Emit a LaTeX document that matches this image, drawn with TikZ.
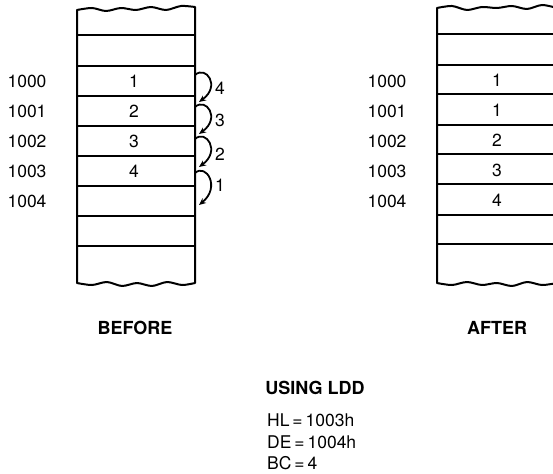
\documentclass[tikz,border=0pt]{standalone}
\usepackage{fontspec}
\setmainfont{TeX Gyre Heros}
\usetikzlibrary{arrows.meta}
\begin{document}
\begin{tikzpicture}[x=1pt,y=-1pt,
  lbl/.style={font=\fontsize{17.5}{20}\selectfont, inner sep=0pt},
  ttl/.style={font=\fontsize{18}{21}\selectfont\bfseries, inner sep=0pt},
  edge/.style={line width=2pt, line cap=round, line join=round},
  rowline/.style={line width=1.5pt},
  mv/.style={line width=1.8pt, -{Stealth[length=7pt,width=6pt]}}]
\useasboundingbox (0,0) rectangle (553,473);
\clip (0,0) rectangle (553,473);

% ---------- BEFORE box ----------
\draw[edge] (77,283) -- plot[smooth] coordinates {(77,10) (92,8) (106,11) (121,8) (136,10) (151,7) (166,10) (181,6) (195,7)}
  -- plot[smooth] coordinates {(195,283) (182,285) (167,282) (152,286) (137,283) (122,286) (107,282) (92,285) (77,283)}
  -- cycle;
\foreach \y in {35,66,96,126,156,186,216,246}
  \draw[rowline] (77,\y) -- (195,\y);

\node[lbl] (bv1) at (134,81) {1};
\node[lbl] (bv2) at (134,111) {2};
\node[lbl] (bv3) at (134,141) {3};
\node[lbl] (bv4) at (134,171) {4};

\node[lbl] (ba0) at (27,81) {1000};
\node[lbl] (ba1) at (27,111) {1001};
\node[lbl] (ba2) at (27,141) {1002};
\node[lbl] (ba3) at (27,171) {1003};
\node[lbl] (ba4) at (27,201) {1004};

% transfer arrows
\coordinate (s4) at (195,75);  \coordinate (e4) at (199,102);
\coordinate (s3) at (195,107); \coordinate (e3) at (199,134);
\coordinate (s2) at (195,139); \coordinate (e2) at (199,167);
\coordinate (s1) at (195,173); \coordinate (e1) at (199,205);
\draw[mv] (s4) .. controls (206,65) and (221,86) .. (e4);
\draw[mv] (s3) .. controls (206,97) and (221,118) .. (e3);
\draw[mv] (s2) .. controls (206,129) and (221,151) .. (e2);
\draw[mv] (s1) .. controls (206,163) and (221,187) .. (e1);
\node[lbl] (n4) at (220,88) {4};
\node[lbl] (n3) at (220,120) {3};
\node[lbl] (n2) at (220,154) {2};
\node[lbl] (n1) at (220,185) {1};

\node[ttl] (before) at (135,328) {BEFORE};

% ---------- AFTER box ----------
\draw[edge] (437,283) -- plot[smooth] coordinates {(437,8) (452,6) (467,10) (482,7) (497,8) (512,6) (527,9) (542,5) (557,8)}
  -- plot[smooth] coordinates {(557,283) (542,285) (527,282) (512,286) (497,283) (482,285) (467,282) (452,285) (437,283)}
  -- cycle;
\foreach \y in {34,65,94,125,154,184,215,244}
  \draw[rowline] (437,\y) -- (557,\y);

\node[lbl] (av0) at (497,80) {1};
\node[lbl] (av1) at (497,110) {1};
\node[lbl] (av2) at (497,140) {2};
\node[lbl] (av3) at (497,170) {3};
\node[lbl] (av4) at (497,200) {4};

\node[lbl] (aa0) at (387,81) {1000};
\node[lbl] (aa1) at (387,111) {1001};
\node[lbl] (aa2) at (387,141) {1002};
\node[lbl] (aa3) at (387,171) {1003};
\node[lbl] (aa4) at (387,201) {1004};

\node[ttl] (after) at (497,328) {AFTER};

% ---------- register values ----------
\node[ttl] (using) at (315,388) {USING LDD};
\node[lbl, anchor=west] (hl) at (267,420) {HL\,=\,1003h};
\node[lbl, anchor=west] (de) at (267,442) {DE\,=\,1004h};
\node[lbl, anchor=west] (bc) at (267,463) {BC\,=\,4};
\end{tikzpicture}
\end{document}
